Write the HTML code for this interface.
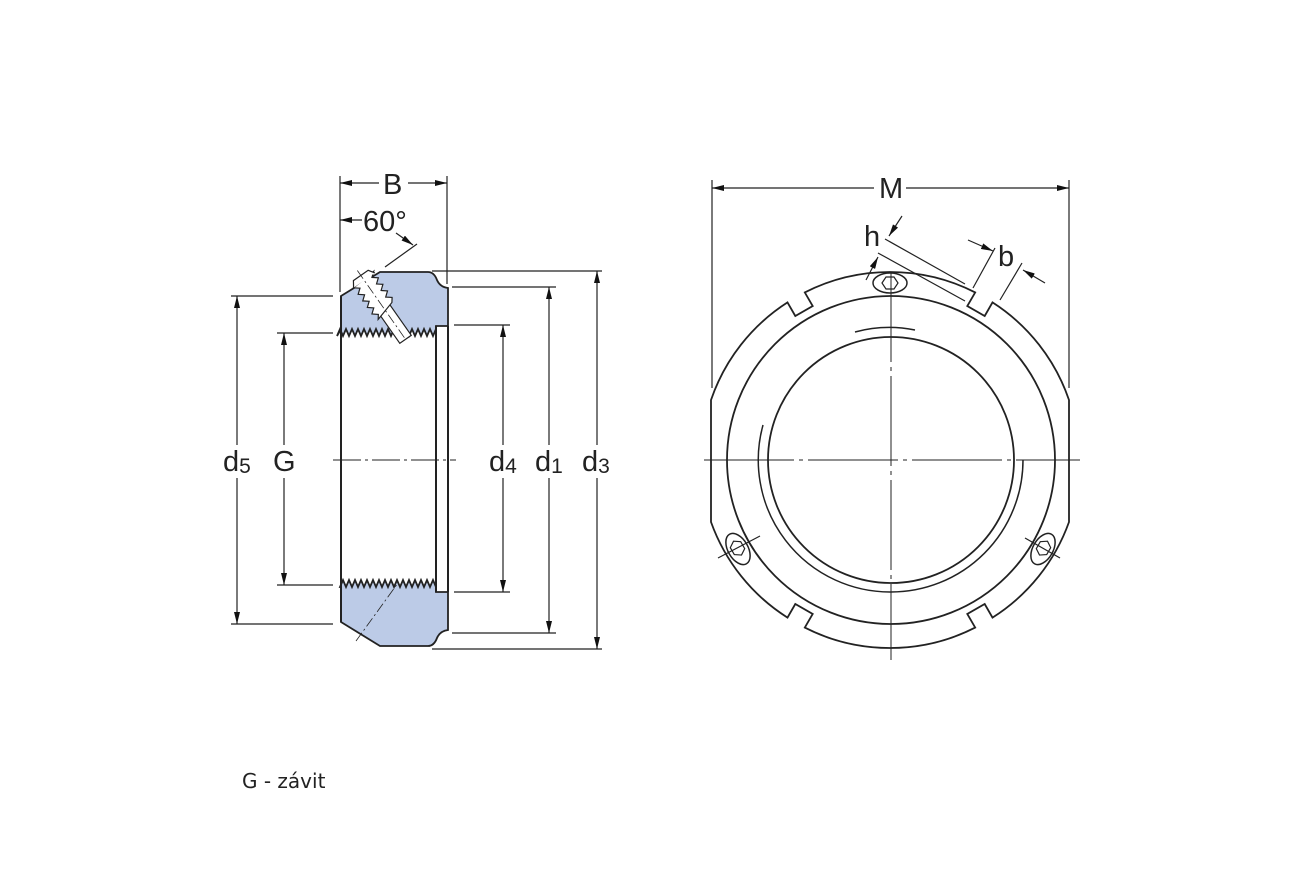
<!DOCTYPE html>
<html><head><meta charset="utf-8"><style>
html,body{margin:0;padding:0;background:#fff}
svg{display:block}
text{font-family:"Liberation Sans",sans-serif;fill:#222}
</style></head><body>
<svg width="1290" height="887" viewBox="0 0 1290 887" xmlns="http://www.w3.org/2000/svg">
<defs>
<marker id="ar" viewBox="0 0 12 6" refX="12" refY="3" markerWidth="12" markerHeight="6" orient="auto-start-reverse" markerUnits="userSpaceOnUse"><path d="M0,0 L12,3 L0,6z" fill="#111"/></marker>
</defs>
<g stroke="#222" stroke-width="1.2" fill="none">
<!-- LEFT VIEW profile -->
<path d="M341,296 L380,272 L428,272 Q434,272 437,280 Q440,287 448,288 L448,326 L436,326 L436,329 l-3,7 l-3,-7 l-3,7 l-3,-7 l-3,7 l-3,-7 l-3,7 l-3,-7 l-3,7 l-3,-7 l-3,7 l-3,-7 l-3,7 l-3,-7 l-3,7 l-3,-7 l-3,7 l-3,-7 l-3,7 l-3,-7 l-3,7 l-3,-7 l-3,7 l-3,-7 l-3,7 l-3,-7 l-3,7 l-3,-7 l-3,7 l-3,-7 l-3,7 l-3,-7 l-3,7 L341,329 Z" fill="#bccbe7" stroke-width="1.8"/>
<path d="M341,622 L380,646 L428,646 Q434,646 437,638 Q440,631 448,630 L448,592 L436,592 L436,587 l-3,-7 l-3,7 l-3,-7 l-3,7 l-3,-7 l-3,7 l-3,-7 l-3,7 l-3,-7 l-3,7 l-3,-7 l-3,7 l-3,-7 l-3,7 l-3,-7 l-3,7 l-3,-7 l-3,7 l-3,-7 l-3,7 l-3,-7 l-3,7 l-3,-7 l-3,7 l-3,-7 l-3,7 l-3,-7 l-3,7 l-3,-7 l-3,7 l-3,-7 l-3,7 L341,587 Z" fill="#bccbe7" stroke-width="1.8"/>
<line x1="341" y1="296" x2="341" y2="622" stroke-width="2"/>
<line x1="448" y1="326" x2="448" y2="592" stroke-width="2"/>
<line x1="436" y1="326" x2="436" y2="592" stroke-width="2"/>
<!-- set screw -->
<g transform="translate(378,300) rotate(-35)">
<rect x="-7" y="8" width="14" height="40" fill="#fff"/>
<path d="M-13,-24 l5,4 l-5,4 l5,4 l-5,4 l5,4 l-5,4 l5,4 l-5,4 l5,4 l-3,4 L10,10 l3,-4 l-5,-4 l5,-4 l-5,-4 l5,-4 l-5,-4 l5,-4 l-5,-4 l5,-4 z" fill="#fff"/>
<path d="M-13,-24 L-9,-30 L9,-30 L13,-24" fill="#fff"/>
<line x1="0" y1="-36" x2="0" y2="48" stroke-dasharray="10,3,2,3" stroke-width="0.8"/>
</g>
<line x1="356" y1="641" x2="398" y2="583" stroke-dasharray="10,3,2,3" stroke-width="0.8"/>
<!-- centre line -->
<line x1="333" y1="460" x2="456" y2="460" stroke-dasharray="28,4,3,4" stroke-width="1"/>
<!-- B -->
<line x1="340" y1="176" x2="340" y2="292"/>
<line x1="447" y1="176" x2="447" y2="284"/>
<line x1="340" y1="183" x2="379" y2="183" marker-start="url(#ar)"/>
<line x1="408" y1="183" x2="447" y2="183" marker-end="url(#ar)"/>
<line x1="340" y1="220" x2="362" y2="220" marker-start="url(#ar)"/>
<line x1="417" y1="244" x2="385" y2="267"/>
<line x1="396" y1="233" x2="413" y2="245" marker-end="url(#ar)"/>
<!-- d3 -->
<line x1="432" y1="271" x2="602" y2="271"/>
<line x1="432" y1="649" x2="602" y2="649"/>
<line x1="597" y1="271" x2="597" y2="445" marker-start="url(#ar)"/>
<line x1="597" y1="478" x2="597" y2="649" marker-end="url(#ar)"/>
<!-- d1 -->
<line x1="452" y1="287" x2="556" y2="287"/>
<line x1="452" y1="633" x2="556" y2="633"/>
<line x1="549" y1="287" x2="549" y2="445" marker-start="url(#ar)"/>
<line x1="549" y1="478" x2="549" y2="633" marker-end="url(#ar)"/>
<!-- d4 -->
<line x1="454" y1="325" x2="510" y2="325"/>
<line x1="454" y1="592" x2="510" y2="592"/>
<line x1="503" y1="325" x2="503" y2="445" marker-start="url(#ar)"/>
<line x1="503" y1="478" x2="503" y2="592" marker-end="url(#ar)"/>
<!-- d5 -->
<line x1="231" y1="296" x2="333" y2="296"/>
<line x1="231" y1="624" x2="333" y2="624"/>
<line x1="237" y1="296" x2="237" y2="445" marker-start="url(#ar)"/>
<line x1="237" y1="478" x2="237" y2="624" marker-end="url(#ar)"/>
<!-- G -->
<line x1="277" y1="333" x2="333" y2="333"/>
<line x1="277" y1="585" x2="333" y2="585"/>
<line x1="284" y1="333" x2="284" y2="445" marker-start="url(#ar)"/>
<line x1="284" y1="478" x2="284" y2="585" marker-end="url(#ar)"/>

<!-- RIGHT VIEW -->
<path d="M787.5,302.4 L795.3,316 L812.7,306 L804.8,292.4 A188,188 0 0 1 975.2,292.4 L967.3,306 L984.7,316 L992.5,302.4 A188,188 0 0 1 1069,400 L1069,522 A188,188 0 0 1 992.5,617.6 L984.7,604 L967.3,614 L975.2,627.6 A188,188 0 0 1 804.8,627.6 L812.7,614 L795.3,604 L787.5,617.6 A188,188 0 0 1 711,522 L711,400 A188,188 0 0 1 787.5,302.4 Z" stroke-width="1.8"/>
<circle cx="891" cy="460" r="164" stroke-width="1.8"/>
<circle cx="891" cy="460" r="123" stroke-width="1.8"/>
<path d="M763,425 A132,132 0 0 0 891,592 A132,132 0 0 0 1023,460" stroke-width="1.5"/>
<path d="M855,332 A132,132 0 0 1 915,330" stroke-width="1.5"/>
<!-- holes -->
<g transform="translate(890,283)"><ellipse rx="17" ry="10" stroke-width="1.5"/><path d="M-8,0 l4,-6 h8 l4,6 l-4,6 h-8 z"/></g>
<g transform="translate(738,549) rotate(-30)"><ellipse rx="10" ry="17" stroke-width="1.5"/><path d="M0,-9 l6,4 v8 l-6,4 l-6,-4 v-8 z"/></g>
<g transform="translate(1043,549) rotate(30)"><ellipse rx="10" ry="17" stroke-width="1.5"/><path d="M0,-9 l6,4 v8 l-6,4 l-6,-4 v-8 z"/></g>
<line x1="718" y1="558" x2="760" y2="536"/>
<line x1="1025" y1="538" x2="1060" y2="558"/>
<!-- centre lines -->
<line x1="704" y1="460" x2="1080" y2="460" stroke-dasharray="90,5,4,5" stroke-width="1"/>
<line x1="891" y1="272" x2="891" y2="660" stroke-dasharray="90,5,4,5" stroke-width="1"/>
<!-- M -->
<line x1="712" y1="180" x2="712" y2="388"/>
<line x1="1069" y1="180" x2="1069" y2="388"/>
<line x1="712" y1="188" x2="874" y2="188" marker-start="url(#ar)"/>
<line x1="906" y1="188" x2="1069" y2="188" marker-end="url(#ar)"/>
<!-- h -->
<line x1="885" y1="239" x2="965" y2="284"/>
<line x1="878" y1="253" x2="965" y2="301"/>
<line x1="902" y1="216" x2="889" y2="236" marker-end="url(#ar)"/>
<line x1="866" y1="280" x2="878" y2="257" marker-end="url(#ar)"/>
<!-- b -->
<line x1="973" y1="288" x2="995" y2="248"/>
<line x1="1000" y1="300" x2="1022" y2="263"/>
<line x1="968" y1="240" x2="993" y2="251" marker-end="url(#ar)"/>
<line x1="1045" y1="283" x2="1023" y2="270" marker-end="url(#ar)"/>
</g>
<!-- labels -->
<g font-size="29">
<text x="383" y="194">B</text>
<text x="363" y="231">60°</text>
<text x="223" y="471">d<tspan font-size="21" dy="2">5</tspan></text>
<text x="273" y="471">G</text>
<text x="489" y="471">d<tspan font-size="21" dy="2">4</tspan></text>
<text x="535" y="471">d<tspan font-size="21" dy="2">1</tspan></text>
<text x="582" y="471">d<tspan font-size="21" dy="2">3</tspan></text>
<text x="879" y="198">M</text>
<text x="864" y="246">h</text>
<text x="998" y="266">b</text>
</g>
<text x="242" y="788" font-size="20" style="font-family:'DejaVu Sans','Liberation Sans',sans-serif">G - závit</text>
</svg>
</body></html>
